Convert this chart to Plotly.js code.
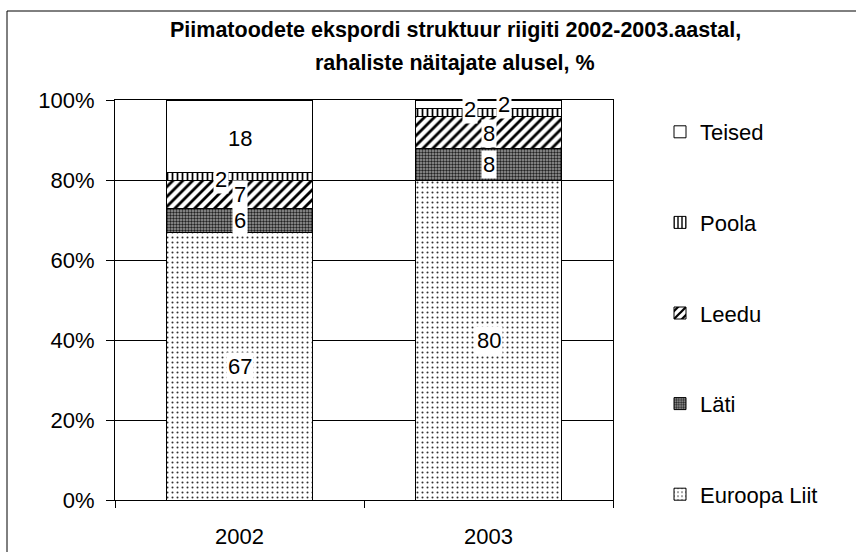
<!DOCTYPE html>
<html>
<head>
<meta charset="utf-8">
<script src="https://cdn.plot.ly/plotly-3.0.1.min.js"></script>
<style>
html,body{margin:0;padding:0;background:#fff;}
#chart{width:856px;height:552px;}
</style>
</head>
<body>
<div id="chart"></div>
<script>
// ---- data ----
var years = ["2002", "2003"];
var seriesNames = ["Euroopa Liit", "Läti", "Leedu", "Poola", "Teised"];
var euroopaLiit = [67, 80];
var lati = [6, 8];
var leedu = [7, 8];
var poola = [2, 2];
var teised = [18, 2];
var titleLines = ["Piimatoodete ekspordi struktuur riigiti 2002-2003.aastal,", "rahaliste näitajate alusel, %"];

// ---- styles ----
var seriesValues = [euroopaLiit, lati, leedu, poola, teised];
var patterns = [
  {shape: ".", fgcolor: "#333", bgcolor: "#fff", size: 5, solidity: 0.13},
  {shape: ".", fgcolor: "#222", bgcolor: "#a0a0a0", size: 3, solidity: 0.5},
  {shape: "/", fgcolor: "#000", bgcolor: "#fff", size: 7, solidity: 0.4},
  {shape: "|", fgcolor: "#000", bgcolor: "#fff", size: 5, solidity: 0.35},
  null
];
var labelShift = [
  [[0,0],[0,0]],
  [[0,0],[0,0]],
  [[0,0],[0,-1]],
  [[-19,-3],[-19,3]],
  [[0,-2],[15,0]]
];

var font = "Liberation Sans, Arial, sans-serif";
var FS = 22;
var W = 856, H = 552, ml = 115, mr = 243, mt = 100, mb = 52;
var pw = W - ml - mr, ph = H - mt - mb;
function px2x(p){return (p - ml) / pw;}
function py2y(p){return (H - mb - p) / ph;}

var traces = [];
var annotations = [];
var cum = years.map(function(){return 0;});
for (var i = 0; i < seriesNames.length; i++) {
  var mk = {color: "#fff", line: {color: "#000", width: 1}};
  if (patterns[i]) mk.pattern = patterns[i];
  traces.push({
    type: "bar",
    name: seriesNames[i],
    x: years,
    y: seriesValues[i],
    legendgroup: "g" + i,
    legendrank: 100 - i,
    marker: mk
  });
  for (var j = 0; j < years.length; j++) {
    var v = seriesValues[i][j];
    annotations.push({
      x: j, y: cum[j] + v / 2, xref: "x", yref: "y",
      text: String(v), showarrow: false,
      xshift: labelShift[i][j][0], yshift: labelShift[i][j][1],
      bgcolor: "#fff", borderpad: 1,
      font: {family: font, size: FS, color: "#000"}
    });
    cum[j] += v;
  }
}
// title lines
var titleY = [30.5, 63];
for (var k = 0; k < titleLines.length; k++) {
  annotations.push({
    xref: "paper", yref: "paper", x: px2x(455), y: py2y(titleY[k]),
    xanchor: "center", yanchor: "middle", showarrow: false,
    text: "<b>" + titleLines[k] + "</b>",
    font: {family: font, size: 21.5, color: "#000"}
  });
}

var layout = {
  width: W, height: H,
  margin: {l: ml, r: mr, t: mt, b: mb, pad: 0},
  paper_bgcolor: "#fff", plot_bgcolor: "#fff",
  font: {family: font, size: FS, color: "#000"},
  barmode: "stack",
  bargap: 0.41,
  xaxis: {
    type: "category", range: [-0.5, 1.5],
    showline: true, linecolor: "#000", linewidth: 1, mirror: true,
    ticks: "outside", ticklen: 7, tickcolor: "#000", tickson: "boundaries",
    showgrid: false, zeroline: false, ticklabelstandoff: 17,
    tickfont: {family: font, size: FS}
  },
  yaxis: {
    range: [0, 100], dtick: 20, ticksuffix: "%",
    showline: true, linecolor: "#000", linewidth: 1, mirror: true,
    ticks: "outside", ticklen: 8, tickcolor: "#000", ticklabelstandoff: 7,
    showgrid: true, gridcolor: "#000", gridwidth: 1, zeroline: false,
    tickfont: {family: font, size: FS}
  },
  showlegend: true,
  legend: {
    x: px2x(660), xanchor: "left", y: py2y(111), yanchor: "top",
    traceorder: "grouped", tracegroupgap: 59, maxheight: 600,
    font: {family: font, size: FS, color: "#000"},
    bgcolor: "rgba(0,0,0,0)"
  },
  annotations: annotations,
  shapes: [{
    type: "rect", xref: "paper", yref: "paper",
    x0: px2x(7), x1: px2x(900), y0: py2y(600), y1: py2y(11),
    line: {color: "#000", width: 1}, fillcolor: "rgba(0,0,0,0)", layer: "below"
  }]
};

Plotly.newPlot("chart", traces, layout, {displayModeBar: false});
</script>
</body>
</html>
